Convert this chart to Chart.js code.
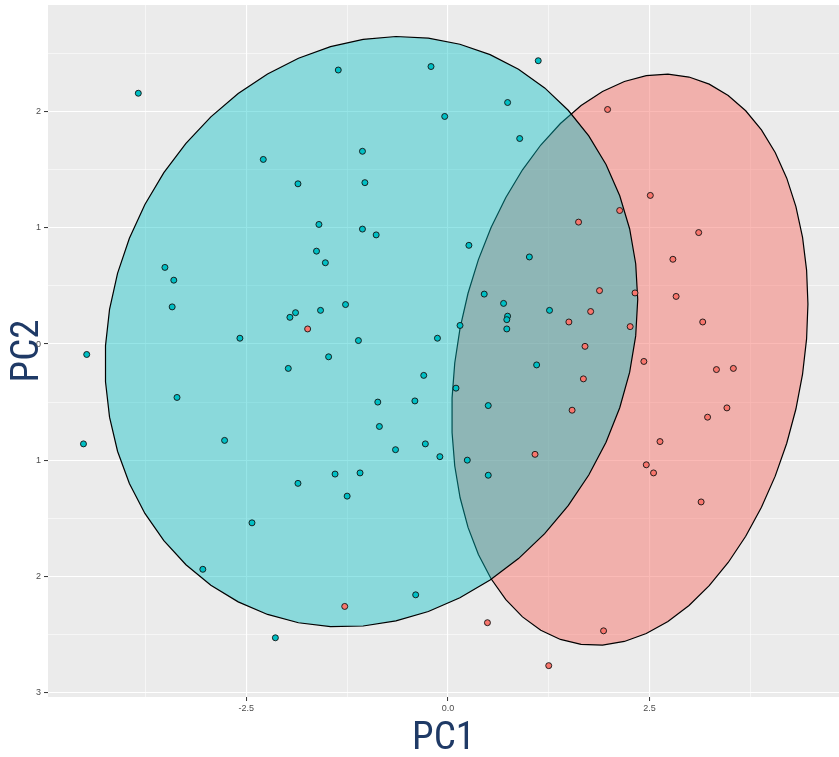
<!DOCTYPE html>
<html><head><meta charset="utf-8">
<script src="https://cdn.jsdelivr.net/npm/chart.js@4"></script>
<style>html,body{margin:0;padding:0;background:#fff;overflow:hidden;}#wrap{width:839px;height:757px;}canvas{display:block;}</style>
</head><body><div id="wrap"><canvas id="c" width="839" height="757"></canvas></div>
<script>
const groups = ["Group 1", "Group 2"];
const groupColors = ["#00BFC4", "#F8766D"];
const groupFills = ["rgba(0,191,196,0.41)", "rgba(248,118,109,0.5)"];

const pc1GroupA = [-3.84,-1.36,-0.21,1.12,0.74,-0.04,0.89,-2.29,-1.06,-1.03,-1.86,-1.60,-1.06,-0.89,0.26,-1.63,1.01,-1.52,-3.51,-3.40,0.45,-3.42,-1.27,0.69,-1.58,-1.89,1.26,-1.96,0.74,0.73,0.15,0.73,-2.58,-0.13,-1.11,-4.48,-1.48,1.10,-1.98,-0.30,0.10,-3.36,-0.41,-0.87,0.50,-0.85,-2.77,-4.52,-0.28,-0.65,-0.10,0.24,-1.09,-1.40,0.50,-1.86,-1.25,-2.43,-3.04,-0.40,-2.14];
const pc2GroupA = [2.16,2.36,2.39,2.44,2.08,1.96,1.77,1.59,1.66,1.39,1.38,1.03,0.99,0.94,0.85,0.80,0.75,0.70,0.66,0.55,0.43,0.32,0.34,0.35,0.29,0.27,0.29,0.23,0.24,0.21,0.16,0.13,0.05,0.05,0.03,-0.09,-0.11,-0.18,-0.21,-0.27,-0.38,-0.46,-0.49,-0.50,-0.53,-0.71,-0.83,-0.86,-0.86,-0.91,-0.97,-1.00,-1.11,-1.12,-1.13,-1.20,-1.31,-1.54,-1.94,-2.16,-2.53];

const pc1GroupB = [1.98,2.51,2.13,1.62,3.11,2.79,1.88,2.32,2.83,1.77,3.16,1.50,2.26,1.70,2.43,3.33,3.54,1.68,3.46,1.54,3.22,2.63,1.08,2.46,2.55,3.14,0.49,1.93,1.25,-1.28,-1.74];
const pc2GroupB = [2.02,1.28,1.15,1.05,0.96,0.73,0.46,0.44,0.41,0.28,0.19,0.19,0.15,-0.02,-0.15,-0.22,-0.21,-0.30,-0.55,-0.57,-0.63,-0.84,-0.95,-1.04,-1.11,-1.36,-2.40,-2.47,-2.77,-2.26,0.13];

const xMajorTicks = [-2.5, 0, 2.5];
const xTickLabels = ["-2.5", "0.0", "2.5"];
const xMinorTicks = [-3.75, -1.25, 1.25, 3.75];
const yMajorTicks = [2, 1, 0, -1, -2, -3];
const yTickLabels = ["2", "1", "0", "1", "2", "3"];
const yMinorTicks = [2.5, 1.5, 0.5, -0.5, -1.5, -2.5];
const xTitle = "PC1";
const yTitle = "PC2";

// stat_ellipse (type "t", level 0.95): robust t covariance (cov.trob) from the points
function ellipseFromPoints(xs, ys, level, segments) {
  const n = xs.length, p = 2, nu = 5;
  let w = new Array(n).fill(1);
  let lx = xs.reduce((s, v) => s + v, 0) / n;
  let ly = ys.reduce((s, v) => s + v, 0) / n;
  let dx = [], dy = [];
  for (let iter = 0; iter < 25; iter++) {
    const w0 = w.slice();
    dx = xs.map(v => v - lx); dy = ys.map(v => v - ly);
    const sw = w.reduce((s, v) => s + v, 0);
    let a = 0, b = 0, c = 0;
    for (let i = 0; i < n; i++) { a += w[i]*dx[i]*dx[i]/sw; b += w[i]*dx[i]*dy[i]/sw; c += w[i]*dy[i]*dy[i]/sw; }
    const det = a*c - b*b;
    w = dx.map((_, i) => (nu + p) / (nu + (c*dx[i]*dx[i] - 2*b*dx[i]*dy[i] + a*dy[i]*dy[i]) / det));
    const sw2 = w.reduce((s, v) => s + v, 0);
    lx = 0; ly = 0;
    for (let i = 0; i < n; i++) { lx += w[i]*xs[i]/sw2; ly += w[i]*ys[i]/sw2; }
    if (w.every((v, i) => Math.abs(v - w0[i]) < 0.01)) break;
  }
  let a = 0, b = 0, c = 0;
  for (let i = 0; i < n; i++) { a += w[i]*dx[i]*dx[i]/n; b += w[i]*dx[i]*dy[i]/n; c += w[i]*dy[i]*dy[i]/n; }
  const r11 = Math.sqrt(a), r12 = b / r11, r22 = Math.sqrt(c - r12*r12);
  const d = n - 1;
  const qf = (d / 2) * (Math.pow(1 - level, -2 / d) - 1);
  const radius = Math.sqrt(2 * qf);
  const out = [];
  for (let i = 0; i <= segments; i++) {
    const t = i * 2 * Math.PI / segments;
    out.push({ x: lx + radius * r11 * Math.cos(t), y: ly + radius * (r12 * Math.cos(t) + r22 * Math.sin(t)) });
  }
  return out;
}

const toPts = (xs, ys) => xs.map((x, i) => ({ x: x, y: ys[i] }));

const panelBg = {
  id: 'panelBg',
  beforeDraw(chart) {
    const { ctx, chartArea: a } = chart;
    ctx.save();
    ctx.fillStyle = '#EBEBEB';
    ctx.fillRect(a.left, a.top, a.right - a.left, a.bottom - a.top);
    ctx.restore();
  }
};

const titleFont = { family: '"Liberation Sans Narrow", "Roboto Condensed", "Liberation Sans", sans-serif', size: 39, lineHeight: 0.9 };
const tickFont = { family: '"Liberation Sans", "DejaVu Sans", sans-serif', size: 9 };

new Chart(document.getElementById('c'), {
  type: 'scatter',
  data: {
    datasets: [
      { label: groups[0], data: toPts(pc1GroupA, pc2GroupA), backgroundColor: groupColors[0], borderColor: '#111', borderWidth: 0.9, pointRadius: 3, order: 0 },
      { label: groups[1], data: toPts(pc1GroupB, pc2GroupB), backgroundColor: groupColors[1], borderColor: '#111', borderWidth: 0.9, pointRadius: 3, order: 0 },
      { label: groups[0] + ' ellipse', data: ellipseFromPoints(pc1GroupA, pc2GroupA, 0.95, 51), showLine: true, fill: 'shape', backgroundColor: groupFills[0], borderColor: '#000', borderWidth: 1.2, pointRadius: 0, tension: 0, order: 1 },
      { label: groups[1] + ' ellipse', data: ellipseFromPoints(pc1GroupB, pc2GroupB, 0.95, 51), showLine: true, fill: 'shape', backgroundColor: groupFills[1], borderColor: '#000', borderWidth: 1.2, pointRadius: 0, tension: 0, order: 2 }
    ]
  },
  options: {
    responsive: false,
    animation: false,
    devicePixelRatio: 1,
    layout: { autoPadding: false, padding: { top: 5, right: 0, bottom: 0, left: 0 } },
    plugins: { legend: { display: false }, tooltip: { enabled: false } },
    scales: {
      x: {
        type: 'linear', min: -4.96, max: 4.85,
        afterBuildTicks(scale) { scale.ticks = xMinorTicks.concat(xMajorTicks).sort((p, q) => p - q).map(v => ({ value: v })); },
        afterFit(scale) { scale.height = 60; scale.paddingLeft = 0; scale.paddingRight = 0; },
        ticks: { autoSkip: false, maxRotation: 0, padding: 2, color: '#4D4D4D', font: tickFont,
          callback: (v) => { const i = xMajorTicks.indexOf(v); return i >= 0 ? xTickLabels[i] : ''; } },
        grid: { color: '#FFFFFF', lineWidth: (ctx) => xMajorTicks.includes(ctx.tick && ctx.tick.value) ? 1.1 : 0.55,
          tickColor: (ctx) => xMajorTicks.includes(ctx.tick && ctx.tick.value) ? '#333333' : 'rgba(0,0,0,0)', tickLength: 4, tickWidth: 1 },
        border: { display: false },
        title: { display: true, text: xTitle, color: '#1F3A66', font: titleFont, padding: { top: 0, bottom: 0 } }
      },
      y: {
        type: 'linear', min: -3.04, max: 2.92,
        afterBuildTicks(scale) { scale.ticks = yMinorTicks.concat(yMajorTicks).sort((p, q) => p - q).map(v => ({ value: v })); },
        afterFit(scale) { scale.width = 48; scale.paddingTop = 0; scale.paddingBottom = 0; },
        ticks: { autoSkip: false, padding: 3, color: '#4D4D4D', font: tickFont,
          callback: (v) => { const i = yMajorTicks.indexOf(v); return i >= 0 ? yTickLabels[i] : ''; } },
        grid: { color: '#FFFFFF', lineWidth: (ctx) => yMajorTicks.includes(ctx.tick && ctx.tick.value) ? 1.1 : 0.55,
          tickColor: (ctx) => yMajorTicks.includes(ctx.tick && ctx.tick.value) ? '#333333' : 'rgba(0,0,0,0)', tickLength: 4, tickWidth: 1 },
        border: { display: false },
        title: { display: true, text: yTitle, color: '#1F3A66', font: titleFont, padding: { top: 11, bottom: 0 } }
      }
    }
  },
  plugins: [panelBg]
});
</script>
</body></html>
